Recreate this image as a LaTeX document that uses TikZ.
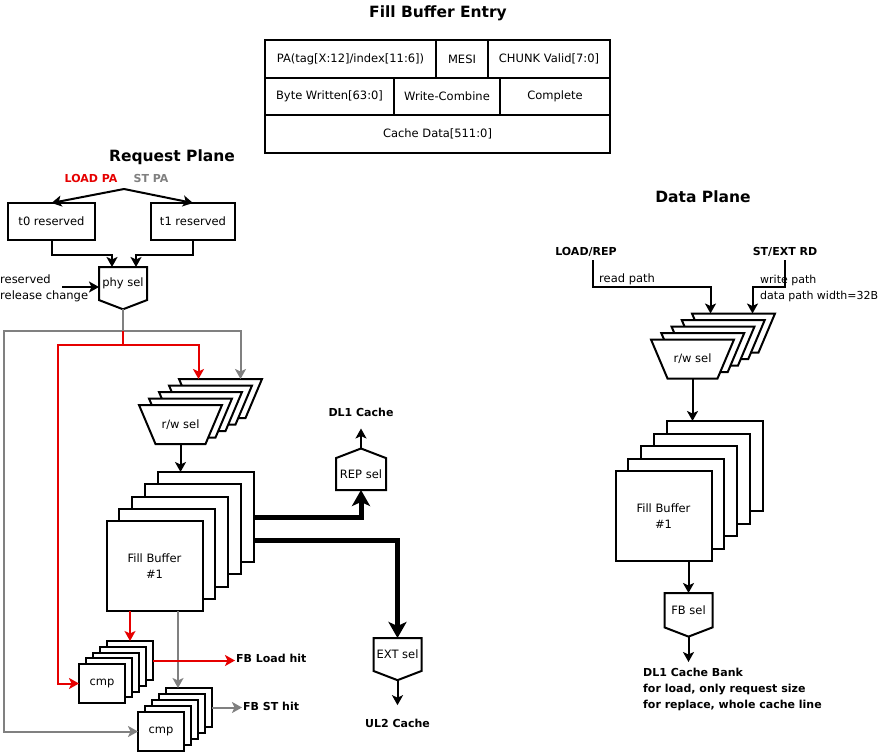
\documentclass[tikz,border=0pt]{standalone}
\usepackage{fontspec}
\setmainfont{DejaVu Sans}
\usetikzlibrary{positioning,arrows.meta,calc,shapes.symbols}
\definecolor{ink}{HTML}{000000}
\definecolor{ldred}{HTML}{E60000}
\definecolor{stgray}{HTML}{808080}
\newcommand{\nrm}{\fontsize{11.5pt}{16pt}\selectfont}
% r/w select trapezium: name, centre
\newcommand{\rwshape}[2]{%
  \node[rwbody] (#1) at (#2) {};
  \draw[rwline] (#1.north west) -- (#1.north east) -- ([xshift=-16.5pt]#1.south east)
    -- ([xshift=16.5pt]#1.south west) -- cycle;}
\tikzset{
  cell/.style={draw=ink, line width=2pt, minimum height=37.7pt, inner sep=0pt, outer sep=0pt, font=\nrm},
  blk/.style={draw=ink, line width=2pt, fill=white, inner sep=0pt, outer sep=0pt, font=\nrm, align=center},
  fbbox/.style={blk, minimum width=96pt, minimum height=90pt},
  cmpbox/.style={blk, minimum width=46pt, minimum height=39pt},
  rwbody/.style={inner sep=0pt, outer sep=0pt, minimum width=83pt, minimum height=39pt},
  rwline/.style={draw=ink, line width=2pt, fill=white},
  seldn/.style={blk, signal, signal to=south, signal pointer angle=138, minimum width=48pt, minimum height=41pt},
  selup/.style={blk, signal, signal to=north, signal pointer angle=138, minimum width=50pt, minimum height=40pt},
  arr/.style={-{Stealth[length=10pt,width=11pt,inset=2.5pt]}, line width=2pt, color=ink},
  rarr/.style={arr, color=ldred},
  garr/.style={arr, color=stgray},
  rline/.style={line width=2pt, color=ldred},
  gline/.style={line width=2pt, color=stgray},
  fat/.style={-{Stealth[length=16pt,width=18pt,inset=4pt]}, line width=5pt, color=ink},
  ttl/.style={font=\fontsize{15.5pt}{18pt}\selectfont\bfseries},
  lab/.style={font=\fontsize{11pt}{16pt}\selectfont\bfseries},
  txt/.style={font=\nrm},
}
\begin{document}
\begin{tikzpicture}[x=1pt, y=-1pt]
    \useasboundingbox[fill=white] (0,0) rectangle (882,754);
    % fill buffer entry
    \node[ttl] (fbe) at (438,13) {Fill Buffer Entry};
    \node[cell, minimum width=171pt, anchor=north west] (pa) at (265,40) {PA(tag[X:12]/index[11:6])};
    \node[cell, minimum width=52pt, right=0pt of pa] (mesi) {MESI};
    \node[cell, minimum width=122pt, right=0pt of mesi] (chunk) {CHUNK Valid[7:0]};
    \node[cell, minimum width=129pt, below=0pt of pa.south west, anchor=north west] (bw) {Byte Written[63:0]};
    \node[cell, minimum width=106pt, right=0pt of bw] (wc) {Write-Combine};
    \node[cell, minimum width=110pt, right=0pt of wc] (cpl) {Complete};
    \node[cell, minimum width=345pt, below=0pt of bw.south west, anchor=north west] (cdata) {Cache Data[511:0]};
    % request plane
    \node[ttl] (reqp) at (172,157) {Request Plane};
    \node[lab, text=ldred] (ldpa) at (91,178) {LOAD PA};
    \node[lab, text=stgray] (stpa) at (151,178) {ST PA};
    \coordinate (pasrc) at (124,189);
    \node[blk, minimum width=87pt, minimum height=37pt] (t0) at (51.5,221.5) {t0 reserved};
    \node[blk, minimum width=84pt, minimum height=37pt] (t1) at (193,221.5) {t1 reserved};
    \draw[arr] (pasrc) -- (t0.north);
    \draw[arr] (pasrc) -- (t1.north);
    \node[seldn, anchor=north] (phy) at (123,267) {phy sel};
    \draw[arr] (t0.south) -- ++(0,15) -| ($(phy.north)+(-11,0)$);
    \draw[arr] (t1.south) -- ++(0,15) -| ($(phy.north)+(13,0)$);
    \node[txt, align=left, anchor=west, inner sep=0pt] (rsv) at (0,288) {reserved\\release change};
    \coordinate (rsvin) at (62,287);
    \draw[arr] (rsvin) -- (rsvin -| phy.west);
    \foreach \i in {4,3,2,1}
      {\rwshape{rw\i}{$(180.5,424.5)+(\i*10,-\i*6.5)$}}
    \rwshape{rw}{180.5,424.5}
    \node[txt] (rwtxt) at (rw) {r/w sel};
    \foreach \i in {4,3,2,1}
      \node[fbbox] (fb\i) at ($(154.5,566)+(\i*12.75,-\i*12.25)$) {};
    \node[fbbox] (fb) at (154.5,566) {Fill Buffer\\\#1};
    \draw[arr] (rw.south) -- (rw.south |- fb4.north);
    \foreach \i in {4,3,2,1}
      \node[cmpbox] (cmpA\i) at ($(102,683.5)+(\i*7,-\i*5.75)$) {};
    \node[cmpbox] (cmpA) at (102,683.5) {cmp};
    \foreach \i in {4,3,2,1}
      \node[cmpbox] (cmpB\i) at ($(161,731.5)+(\i*7,-\i*6)$) {};
    \node[cmpbox] (cmpB) at (161,731.5) {cmp};
    % load / store request paths
    \coordinate (gsplit) at (123,331);
    \coordinate (gleft) at (4,331);
    \coordinate (rsplit) at (123,345);
    \coordinate (rleft) at (58,345);
    \draw[gline] (phy.south) -- (gsplit);
    \draw[garr] (gsplit) -| ($(rw4.north)+(20,0)$);
    \draw[garr] (gsplit) -- (gleft) |- (cmpB.west);
    \draw[rline] (gsplit) -- (rsplit);
    \draw[rarr] (rsplit) -| ($(rw4.north)+(-22,0)$);
    \draw[rarr] (rsplit) -- (rleft) |- (cmpA.west);
    \draw[rarr] (fb.south -| cmpA4.north) -- (cmpA4.north);
    \coordinate (fbg) at ($(fb.south)+(23.5,0)$);
    \draw[garr] (fbg) -- (fbg |- cmpB4.north);
    \node[lab, anchor=west, inner xsep=1pt] (ldhit) at (235,658) {FB Load hit};
    \draw[rarr] (cmpA4.east) -- (cmpA4.east -| ldhit.west);
    \node[lab, anchor=west, inner xsep=1pt] (sthit) at (242,706) {FB ST hit};
    \draw[garr] (cmpB4.east) -- (cmpB4.east -| sthit.west);
    % replace / external
    \node[selup, anchor=south] (rep) at (361,490) {REP sel};
    \node[lab, above=20pt of rep.north, inner ysep=12pt] (dl1) {DL1 Cache};
    \draw[arr] (rep.north) -- (dl1.south);
    \node[seldn, anchor=north] (ext) at (397.5,638) {EXT sel};
    \node[lab, below=25pt of ext.south, inner ysep=14pt] (ul2) {UL2 Cache};
    \draw[arr] (ext.south) -- (ul2.north);
    \draw[fat] ($(fb4.north east)+(0,45)$) -| (rep.south);
    \draw[fat] ($(fb4.north east)+(0,68)$) -| (ext.north);
    % data plane
    \node[ttl] (datp) at (703,197) {Data Plane};
    \node[lab] (ldrep) at (586,252) {LOAD/REP};
    \node[lab] (stext) at (785,252) {ST/EXT RD};
    \foreach \i in {4,3,2,1}
      {\rwshape{drw\i}{$(692.5,359)+(\i*10.25,-\i*6.5)$}}
    \rwshape{drw}{692.5,359}
    \node[txt] (drwtxt) at (drw) {r/w sel};
    \coordinate (rdbend) at (593,287);
    \coordinate (wrbend) at (785,287);
    \draw[arr] (rdbend |- ldrep.south) -- (rdbend) -| ($(drw4.north)+(-23,0)$);
    \draw[arr] (stext.south) -- (wrbend) -| ($(drw4.north)+(19,0)$);
    \node[txt, anchor=south west, inner xsep=6pt, inner ysep=2pt] (rdlab) at (rdbend) {read path};
    \node[txt, font=\fontsize{11pt}{16pt}\selectfont, align=left, anchor=west, inner xsep=2pt] (wrlab) at (758,288)
      {write path\\data path width=32B};
    \foreach \i in {4,3,2,1}
      \node[fbbox] (dfb\i) at ($(663.5,516)+(\i*12.75,-\i*12.5)$) {};
    \node[fbbox] (dfb) at (663.5,516) {Fill Buffer\\\#1};
    \draw[arr] (drw.south) -- (drw.south |- dfb4.north);
    \node[seldn, anchor=north] (fbsel) at (688.5,593) {FB sel};
    \draw[arr] (fbsel.north |- dfb.south) -- (fbsel.north);
    \node[lab, align=left, anchor=north west, inner xsep=0pt, inner ysep=6pt] (bank) at (643,662)
      {DL1 Cache Bank\\for load, only request size\\for replace, whole cache line};
    \draw[arr] (fbsel.south) -- (fbsel.south |- bank.north);
\end{tikzpicture}
\end{document}
